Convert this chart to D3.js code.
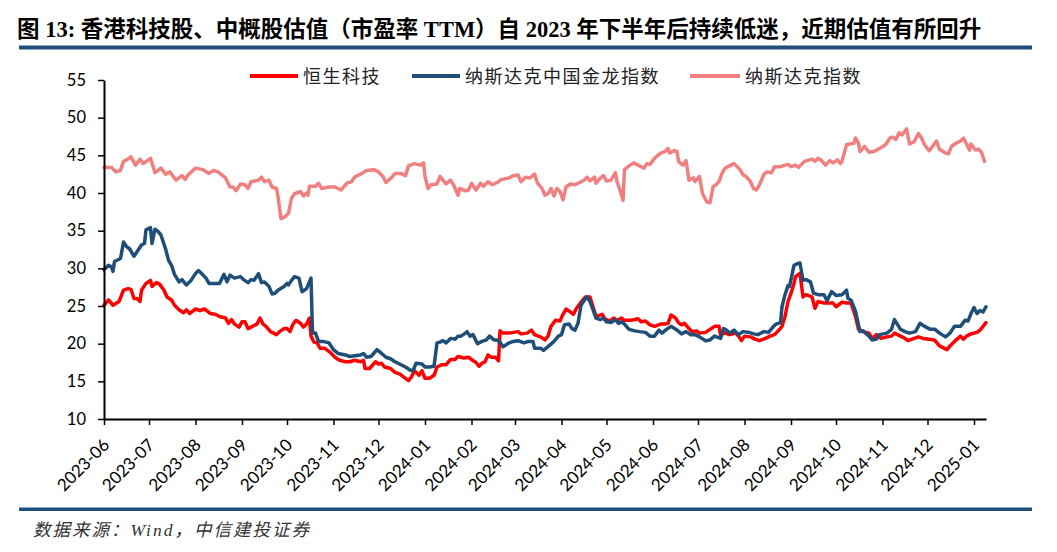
<!DOCTYPE html>
<html><head><meta charset="utf-8">
<script src="https://cdn.jsdelivr.net/npm/d3@7"></script>
<style>body{margin:0;background:#fff;} svg{display:block;}</style>
</head><body>
<svg id="chart" width="1057" height="552"></svg>
<script>
const titleText = "图 13: 香港科技股、中概股估值（市盈率 TTM）自 2023 年下半年后持续低迷，近期估值有所回升";
const sourceText = "数据来源：Wind，中信建投证券";
const seriesNames = ["恒生科技", "纳斯达克中国金龙指数", "纳斯达克指数"];
const seriesColors = ["#FF0000", "#1F4E79", "#F08080"];
const yTicks = [10, 15, 20, 25, 30, 35, 40, 45, 50, 55];
const xDomain = ["2023-06-01", "2025-01-09"];

// 恒生科技
const hsDates = ["2023-06-01","2023-06-04","2023-06-07","2023-06-11","2023-06-14","2023-06-17","2023-06-19","2023-06-21","2023-06-23","2023-06-25","2023-06-26","2023-06-29","2023-07-02","2023-07-03","2023-07-06","2023-07-08","2023-07-11","2023-07-13","2023-07-16","2023-07-18","2023-07-21","2023-07-24","2023-07-26","2023-07-28","2023-08-01","2023-08-04","2023-08-07","2023-08-11","2023-08-14","2023-08-17","2023-08-21","2023-08-23","2023-08-25","2023-08-27","2023-08-30","2023-09-01","2023-09-03","2023-09-05","2023-09-08","2023-09-11","2023-09-13","2023-09-15","2023-09-17","2023-09-20","2023-09-22","2023-09-24","2023-09-26","2023-09-29","2023-10-01","2023-10-03","2023-10-05","2023-10-07","2023-10-10","2023-10-12","2023-10-14","2023-10-16","2023-10-17","2023-10-19","2023-10-21","2023-10-23","2023-10-26","2023-10-30","2023-11-02","2023-11-05","2023-11-09","2023-11-12","2023-11-15","2023-11-19","2023-11-21","2023-11-22","2023-11-25","2023-11-29","2023-12-01","2023-12-03","2023-12-05","2023-12-09","2023-12-12","2023-12-15","2023-12-19","2023-12-21","2023-12-23","2023-12-25","2023-12-28","2023-12-30","2024-01-01","2024-01-04","2024-01-07","2024-01-09","2024-01-12","2024-01-15","2024-01-18","2024-01-21","2024-01-23","2024-01-27","2024-01-30","2024-02-01","2024-02-04","2024-02-06","2024-02-08","2024-02-10","2024-02-12","2024-02-14","2024-02-17","2024-02-19","2024-02-20","2024-02-22","2024-02-26","2024-02-29","2024-03-03","2024-03-05","2024-03-09","2024-03-12","2024-03-14","2024-03-18","2024-03-21","2024-03-23","2024-03-25","2024-03-28","2024-03-31","2024-04-02","2024-04-04","2024-04-07","2024-04-09","2024-04-11","2024-04-14","2024-04-17","2024-04-20","2024-04-22","2024-04-24","2024-04-28","2024-04-30","2024-05-03","2024-05-06","2024-05-08","2024-05-11","2024-05-13","2024-05-17","2024-05-20","2024-05-22","2024-05-24","2024-05-27","2024-05-30","2024-06-02","2024-06-06","2024-06-09","2024-06-11","2024-06-13","2024-06-16","2024-06-18","2024-06-20","2024-06-22","2024-06-25","2024-06-27","2024-06-30","2024-07-02","2024-07-06","2024-07-09","2024-07-12","2024-07-15","2024-07-16","2024-07-19","2024-07-22","2024-07-26","2024-07-28","2024-07-30","2024-08-01","2024-08-05","2024-08-08","2024-08-11","2024-08-15","2024-08-18","2024-08-21","2024-08-24","2024-08-26","2024-08-28","2024-08-30","2024-09-01","2024-09-03","2024-09-04","2024-09-06","2024-09-07","2024-09-09","2024-09-11","2024-09-15","2024-09-17","2024-09-19","2024-09-23","2024-09-26","2024-09-29","2024-10-01","2024-10-05","2024-10-08","2024-10-11","2024-10-14","2024-10-16","2024-10-19","2024-10-23","2024-10-25","2024-10-28","2024-10-31","2024-11-04","2024-11-07","2024-11-09","2024-11-13","2024-11-16","2024-11-18","2024-11-22","2024-11-25","2024-11-28","2024-12-02","2024-12-05","2024-12-06","2024-12-09","2024-12-12","2024-12-14","2024-12-16","2024-12-19","2024-12-23","2024-12-25","2024-12-27","2024-12-30","2025-01-03","2025-01-05","2025-01-07","2025-01-09"];
const hsValues = [25.1,25.8,25.1,25.6,27.1,27.3,27.2,26.0,26.0,25.6,27.1,28.0,28.4,27.6,28.1,27.9,27.1,26.2,25.8,25.1,24.5,24.1,24.5,24.0,24.6,24.4,24.6,24.0,23.9,23.6,23.4,22.7,23.2,22.6,22.2,22.9,22.9,22.0,22.3,22.6,23.4,22.6,22.3,21.6,21.4,21.2,21.6,22.0,22.0,21.6,22.6,23.1,22.7,22.2,22.6,23.4,21.0,20.2,20.1,19.4,19.4,18.8,18.2,17.8,17.6,17.6,17.8,17.6,17.8,16.7,16.7,17.6,17.3,17.4,16.9,16.7,16.2,16.0,15.4,15.1,15.6,16.4,15.8,16.4,15.4,15.4,15.8,16.9,17.2,17.2,17.9,17.9,18.3,18.1,18.2,17.9,17.5,17.0,17.4,17.6,18.5,18.2,18.2,17.7,21.7,21.4,21.4,21.5,21.6,21.3,21.4,21.8,21.2,20.9,20.5,21.0,22.3,23.1,23.0,23.9,24.6,24.2,23.9,24.7,25.5,26.2,26.2,24.9,23.6,23.9,23.3,23.0,23.4,23.1,23.4,23.1,23.1,23.2,23.3,22.9,23.0,22.5,22.3,22.6,22.6,22.7,23.8,23.4,22.8,22.5,22.7,22.0,21.6,21.7,21.4,21.5,21.9,22.3,22.3,21.2,21.4,21.2,21.4,21.0,20.4,21.0,20.9,20.6,20.4,20.7,21.0,21.2,21.8,22.3,23.6,25.6,26.7,28.0,28.9,29.2,29.3,26.2,26.5,26.2,24.7,25.6,25.4,25.4,25.4,24.9,25.5,25.4,25.4,23.6,21.9,21.6,21.4,20.7,21.2,20.7,20.9,21.0,21.4,21.0,20.7,20.4,20.7,20.9,20.7,20.6,20.5,20.4,19.7,19.4,19.2,19.7,20.3,21.0,20.6,21.0,21.3,21.5,21.8,22.3,22.8];

// 纳斯达克中国金龙指数
const cnDates = ["2023-06-01","2023-06-04","2023-06-06","2023-06-07","2023-06-08","2023-06-12","2023-06-14","2023-06-16","2023-06-18","2023-06-21","2023-06-23","2023-06-26","2023-06-28","2023-06-29","2023-07-02","2023-07-03","2023-07-05","2023-07-07","2023-07-09","2023-07-12","2023-07-14","2023-07-16","2023-07-18","2023-07-21","2023-07-23","2023-07-25","2023-07-26","2023-07-29","2023-08-01","2023-08-03","2023-08-05","2023-08-08","2023-08-10","2023-08-14","2023-08-17","2023-08-20","2023-08-22","2023-08-24","2023-08-27","2023-08-31","2023-09-02","2023-09-05","2023-09-07","2023-09-09","2023-09-12","2023-09-14","2023-09-16","2023-09-19","2023-09-21","2023-09-23","2023-09-25","2023-09-29","2023-10-01","2023-10-02","2023-10-04","2023-10-06","2023-10-09","2023-10-11","2023-10-14","2023-10-17","2023-10-18","2023-10-20","2023-10-22","2023-10-25","2023-10-29","2023-11-01","2023-11-04","2023-11-09","2023-11-12","2023-11-15","2023-11-19","2023-11-21","2023-11-23","2023-11-26","2023-11-30","2023-12-03","2023-12-06","2023-12-09","2023-12-12","2023-12-15","2023-12-19","2023-12-22","2023-12-24","2023-12-26","2023-12-30","2024-01-01","2024-01-04","2024-01-07","2024-01-09","2024-01-11","2024-01-13","2024-01-15","2024-01-18","2024-01-21","2024-01-23","2024-01-25","2024-01-28","2024-01-29","2024-01-31","2024-02-02","2024-02-05","2024-02-08","2024-02-11","2024-02-13","2024-02-16","2024-02-18","2024-02-20","2024-02-22","2024-02-26","2024-02-29","2024-03-03","2024-03-07","2024-03-10","2024-03-13","2024-03-14","2024-03-18","2024-03-20","2024-03-23","2024-03-27","2024-03-30","2024-04-01","2024-04-03","2024-04-06","2024-04-08","2024-04-10","2024-04-12","2024-04-14","2024-04-17","2024-04-18","2024-04-20","2024-04-22","2024-04-24","2024-04-27","2024-04-29","2024-05-01","2024-05-04","2024-05-07","2024-05-09","2024-05-11","2024-05-13","2024-05-16","2024-05-20","2024-05-23","2024-05-27","2024-05-30","2024-06-02","2024-06-05","2024-06-07","2024-06-10","2024-06-13","2024-06-17","2024-06-20","2024-06-23","2024-06-26","2024-06-29","2024-07-02","2024-07-06","2024-07-09","2024-07-12","2024-07-16","2024-07-18","2024-07-20","2024-07-22","2024-07-25","2024-07-28","2024-07-31","2024-08-04","2024-08-07","2024-08-10","2024-08-14","2024-08-17","2024-08-20","2024-08-22","2024-08-25","2024-08-26","2024-08-28","2024-08-30","2024-08-31","2024-09-03","2024-09-05","2024-09-07","2024-09-09","2024-09-11","2024-09-14","2024-09-16","2024-09-19","2024-09-23","2024-09-25","2024-09-28","2024-10-01","2024-10-05","2024-10-08","2024-10-09","2024-10-11","2024-10-14","2024-10-17","2024-10-19","2024-10-23","2024-10-25","2024-10-28","2024-10-30","2024-11-04","2024-11-07","2024-11-09","2024-11-13","2024-11-16","2024-11-19","2024-11-23","2024-11-26","2024-11-29","2024-12-03","2024-12-06","2024-12-09","2024-12-13","2024-12-16","2024-12-19","2024-12-23","2024-12-26","2024-12-28","2024-12-30","2025-01-01","2025-01-03","2025-01-05","2025-01-07","2025-01-09"];
const cnValues = [29.8,30.4,30.2,29.6,30.9,31.3,33.5,32.9,32.6,31.6,32.2,33.1,33.3,35.1,35.4,33.3,35.2,34.9,34.4,32.6,31.1,30.4,29.2,28.2,28.5,28.0,27.8,28.4,29.3,29.7,29.3,28.7,28.0,28.0,28.0,29.2,28.2,29.1,28.7,28.9,28.5,28.1,28.5,28.4,29.3,28.1,28.2,27.6,26.6,26.7,27.1,27.6,28.0,27.8,28.4,28.9,28.7,26.9,27.3,28.7,21.4,21.4,20.3,20.3,20.1,19.2,18.7,18.5,18.3,18.4,18.5,18.7,18.2,18.3,19.2,18.7,18.2,18.0,17.6,17.3,16.9,16.5,16.4,17.4,17.3,16.9,16.9,17.0,20.1,20.2,20.4,20.1,20.7,20.6,21.0,21.0,21.4,21.6,21.0,21.2,20.0,20.3,20.5,21.0,20.5,20.5,20.2,19.6,20.1,20.3,20.4,20.1,20.3,20.3,19.4,19.4,19.1,19.6,20.3,21.0,21.2,22.5,22.6,22.0,21.8,22.7,25.1,26.0,26.2,25.6,24.5,23.4,23.2,23.4,22.9,22.8,23.2,22.7,22.9,22.6,21.9,21.7,21.6,21.5,21.0,21.0,21.8,21.4,21.9,22.3,21.8,21.3,21.6,21.2,21.2,20.9,20.4,20.5,21.0,20.7,22.0,21.8,21.4,21.8,21.2,21.6,21.5,21.3,21.2,21.6,21.5,22.2,22.6,22.8,24.9,26.5,27.7,27.6,30.4,30.6,30.7,28.4,28.5,28.2,26.7,26.5,26.5,25.7,26.9,26.4,26.5,27.1,26.0,25.8,24.3,21.6,21.7,21.0,20.5,20.6,21.2,21.4,21.9,23.2,21.9,21.6,21.4,21.6,22.7,22.3,21.9,21.9,21.4,20.9,21.4,22.3,22.3,23.1,23.0,24.0,24.8,24.0,24.4,24.2,24.9];

// 纳斯达克指数
const ndDates = ["2023-06-01","2023-06-06","2023-06-09","2023-06-12","2023-06-14","2023-06-16","2023-06-19","2023-06-22","2023-06-25","2023-06-27","2023-07-02","2023-07-05","2023-07-09","2023-07-12","2023-07-15","2023-07-19","2023-07-23","2023-07-25","2023-07-27","2023-08-01","2023-08-06","2023-08-10","2023-08-13","2023-08-16","2023-08-21","2023-08-24","2023-08-26","2023-08-28","2023-08-31","2023-09-03","2023-09-05","2023-09-07","2023-09-12","2023-09-14","2023-09-16","2023-09-19","2023-09-21","2023-09-24","2023-09-25","2023-09-27","2023-09-30","2023-10-02","2023-10-04","2023-10-06","2023-10-10","2023-10-12","2023-10-14","2023-10-15","2023-10-16","2023-10-20","2023-10-22","2023-10-24","2023-10-29","2023-11-02","2023-11-06","2023-11-10","2023-11-13","2023-11-15","2023-11-20","2023-11-23","2023-11-28","2023-12-01","2023-12-04","2023-12-06","2023-12-10","2023-12-12","2023-12-16","2023-12-19","2023-12-21","2023-12-25","2023-12-29","2023-12-31","2024-01-01","2024-01-03","2024-01-05","2024-01-09","2024-01-11","2024-01-13","2024-01-15","2024-01-18","2024-01-20","2024-01-23","2024-01-24","2024-01-28","2024-01-30","2024-02-01","2024-02-04","2024-02-07","2024-02-09","2024-02-12","2024-02-15","2024-02-19","2024-02-21","2024-02-26","2024-02-29","2024-03-03","2024-03-05","2024-03-08","2024-03-11","2024-03-14","2024-03-16","2024-03-19","2024-03-21","2024-03-23","2024-03-25","2024-03-27","2024-03-29","2024-03-31","2024-04-02","2024-04-04","2024-04-07","2024-04-10","2024-04-12","2024-04-16","2024-04-18","2024-04-20","2024-04-23","2024-04-24","2024-04-27","2024-04-29","2024-05-01","2024-05-04","2024-05-07","2024-05-08","2024-05-10","2024-05-12","2024-05-13","2024-05-16","2024-05-19","2024-05-22","2024-05-26","2024-05-28","2024-05-30","2024-06-02","2024-06-06","2024-06-09","2024-06-11","2024-06-12","2024-06-15","2024-06-17","2024-06-18","2024-06-21","2024-06-23","2024-06-25","2024-06-28","2024-06-29","2024-07-02","2024-07-04","2024-07-07","2024-07-09","2024-07-11","2024-07-13","2024-07-15","2024-07-17","2024-07-19","2024-07-22","2024-07-25","2024-07-27","2024-07-29","2024-07-31","2024-08-02","2024-08-05","2024-08-07","2024-08-09","2024-08-11","2024-08-14","2024-08-16","2024-08-19","2024-08-21","2024-08-25","2024-08-28","2024-08-30","2024-09-01","2024-09-04","2024-09-06","2024-09-09","2024-09-10","2024-09-15","2024-09-17","2024-09-19","2024-09-21","2024-09-24","2024-09-27","2024-09-29","2024-10-02","2024-10-04","2024-10-05","2024-10-08","2024-10-10","2024-10-13","2024-10-14","2024-10-16","2024-10-17","2024-10-20","2024-10-23","2024-10-26","2024-10-30","2024-11-03","2024-11-06","2024-11-08","2024-11-10","2024-11-12","2024-11-14","2024-11-17","2024-11-19","2024-11-22","2024-11-25","2024-11-27","2024-11-29","2024-12-02","2024-12-04","2024-12-07","2024-12-09","2024-12-13","2024-12-15","2024-12-17","2024-12-20","2024-12-23","2024-12-25","2024-12-27","2024-12-29","2024-12-30","2025-01-02","2025-01-04","2025-01-06","2025-01-08"];
const ndValues = [43.4,43.4,42.8,43.0,44.2,44.4,44.8,43.7,44.5,43.9,44.6,42.7,43.3,42.5,42.8,41.7,42.3,41.8,42.4,43.3,43.1,42.6,43.0,42.8,42.0,40.8,40.8,40.3,41.2,41.1,40.6,41.5,41.7,42.1,41.5,41.7,40.8,40.6,39.5,36.6,36.9,37.3,39.3,39.9,40.2,39.6,40.0,39.7,40.9,40.9,41.3,40.6,40.8,40.8,40.4,41.3,41.5,42.1,42.6,43.0,43.1,42.8,42.2,41.4,42.1,42.6,42.6,42.3,43.6,43.9,43.7,44.0,42.2,40.6,41.1,41.2,42.2,41.7,41.2,41.7,41.1,39.7,40.6,40.3,40.4,41.3,40.4,41.3,40.9,41.5,41.1,41.5,41.8,42.0,42.3,42.4,41.5,42.1,42.0,42.5,41.3,40.6,39.7,39.9,40.6,39.6,40.6,40.2,39.1,40.8,41.2,41.1,41.3,41.7,42.1,41.6,42.1,41.3,42.0,42.3,41.6,41.7,42.7,41.5,40.4,39.0,43.1,43.6,44.0,43.7,43.3,43.9,43.8,44.6,45.3,45.5,45.9,45.3,45.6,45.5,44.2,43.7,44.3,41.7,42.0,41.5,42.2,39.9,38.8,38.7,40.8,41.1,41.5,42.6,43.3,43.6,43.9,43.5,43.1,42.4,42.2,41.5,40.6,40.4,41.1,42.5,42.8,42.7,43.5,43.5,43.7,43.8,43.5,43.7,43.4,44.0,44.2,44.5,44.2,44.6,44.4,43.7,44.3,44.0,44.4,43.9,44.2,46.4,46.5,46.6,47.3,46.6,45.5,46.2,45.4,45.5,45.9,46.4,47.3,47.4,47.1,48.0,47.7,48.5,46.5,46.8,47.9,47.3,46.4,45.6,46.1,46.9,45.8,45.3,45.2,46.2,46.6,46.9,47.3,46.5,45.7,46.5,45.7,45.8,45.4,44.2];

const parse = d3.timeParse("%Y-%m-%d");
const toPoints = (dates, values) => dates.map((d, i) => ({ date: parse(d), value: values[i] }));
const series = [
  { name: seriesNames[0], color: seriesColors[0], points: toPoints(hsDates, hsValues) },
  { name: seriesNames[1], color: seriesColors[1], points: toPoints(cnDates, cnValues) },
  { name: seriesNames[2], color: seriesColors[2], points: toPoints(ndDates, ndValues) }
];

const svg = d3.select("#chart");
const plot = { left: 104, right: 986, top: 80, bottom: 419 };
const x = d3.scaleTime().domain(xDomain.map(parse)).range([plot.left, plot.right]);
const y = d3.scaleLinear().domain([10, 55]).range([plot.bottom, plot.top]);

// Title
svg.append("text").attr("x", 17).attr("y", 37)
  .attr("font-family", "'Liberation Serif', 'Noto Sans CJK SC', serif")
  .attr("font-weight", "bold").attr("font-size", 22.5).attr("fill", "#000")
  .text(titleText);
svg.append("rect").attr("x", 19).attr("y", 45.5).attr("width", 1013).attr("height", 4).attr("fill", "#1F4E79");

// Bottom source
svg.append("rect").attr("x", 19).attr("y", 507.5).attr("width", 1013).attr("height", 3.5).attr("fill", "#1F4E79");
svg.append("text").attr("x", 33).attr("y", 536)
  .attr("font-family", "'Liberation Serif', 'Noto Sans CJK SC', serif")
  .attr("font-style", "italic").attr("font-size", 17.5).attr("letter-spacing", 2).attr("fill", "#333")
  .text(sourceText);

// Lines
const line = d3.line().x(d => x(d.date)).y(d => y(d.value));
const drawOrder = [2, 0, 1];
drawOrder.forEach(i => {
  svg.append("path").datum(series[i].points)
    .attr("d", line).attr("fill", "none")
    .attr("stroke", series[i].color).attr("stroke-width", 3.5)
    .attr("stroke-linejoin", "round").attr("stroke-linecap", "round");
});

// Y axis
const yAxis = svg.append("g").attr("transform", `translate(${plot.left},0)`)
  .call(d3.axisLeft(y).tickValues(yTicks).tickSize(6).tickSizeOuter(0).tickPadding(12));
// X axis
const xAxis = svg.append("g").attr("transform", `translate(0,${plot.bottom})`)
  .call(d3.axisBottom(x).ticks(d3.timeMonth.every(1)).tickFormat(d3.timeFormat("%Y-%m")).tickSize(6).tickSizeOuter(0));
[yAxis, xAxis].forEach(g => {
  g.select(".domain").attr("stroke", "#000").attr("stroke-width", 2);
  g.selectAll(".tick line").attr("stroke", "#000").attr("stroke-width", 1.5);
  g.selectAll("text").attr("font-family", "Lato, 'Open Sans', sans-serif").attr("font-size", 16.5).attr("fill", "#000");
});
xAxis.selectAll(".tick text")
  .attr("x", 0).attr("y", 0).attr("dy", 0)
  .attr("font-size", 17)
  .attr("text-anchor", "end")
  .attr("transform", "translate(6,27) rotate(-45)");

// Legend
const legendPos = [{ x: 250, len: 48, tx: 303 }, { x: 412, len: 48, tx: 465 }, { x: 690, len: 50, tx: 745 }];
const legend = svg.append("g");
series.forEach((s, i) => {
  const p = legendPos[i];
  legend.append("line").attr("x1", p.x).attr("x2", p.x + p.len).attr("y1", 76).attr("y2", 76)
    .attr("stroke", s.color).attr("stroke-width", 4);
  legend.append("text").attr("x", p.tx).attr("y", 83)
    .attr("font-family", "'Noto Sans CJK SC', sans-serif").attr("font-size", 18)
    .attr("letter-spacing", 1.5).attr("fill", "#222").text(s.name);
});
</script>
</body></html>
